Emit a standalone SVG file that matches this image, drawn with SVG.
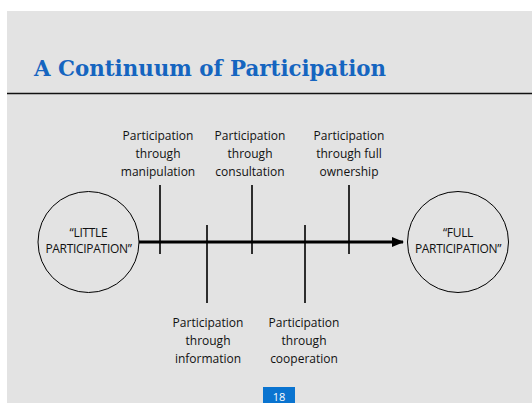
<svg xmlns="http://www.w3.org/2000/svg" width="532" height="403" viewBox="0 0 532 403">
<defs>
<style>
.lbl{font-family:"Open Sans","Noto Sans","DejaVu Sans",sans-serif;font-size:12px;fill:#111;text-anchor:middle}
.end{font-family:"Open Sans","Noto Sans","DejaVu Sans",sans-serif;font-size:12px;fill:#111;text-anchor:middle}
.tick{stroke:#000;stroke-width:1.6}
.node{fill:none;stroke:#000;stroke-width:1}
</style>
<marker id="ah" markerWidth="12" markerHeight="10" refX="11" refY="5" orient="auto" markerUnits="userSpaceOnUse">
<path d="M0,0 L12,5 L0,10 Z" fill="#000"/>
</marker>
</defs>
<rect x="0" y="0" width="532" height="403" fill="#fff"/>
<rect x="7" y="11" width="525" height="392" fill="#e3e3e3"/>
<text x="34" y="76" font-family="'DejaVu Serif','Liberation Serif',serif" font-weight="bold" font-size="23" fill="#1565c0" textLength="352" lengthAdjust="spacingAndGlyphs">A Continuum of Participation</text>
<line x1="7" y1="93.5" x2="532" y2="93.5" stroke="#111" stroke-width="1.6"/>
<g id="connectors">
<line x1="139" y1="242" x2="403" y2="242" stroke="#000" stroke-width="3" marker-end="url(#ah)"/>
<line class="tick" x1="160" y1="185" x2="160" y2="254"/>
<line class="tick" x1="207" y1="225" x2="207" y2="303"/>
<line class="tick" x1="252" y1="185" x2="252" y2="254"/>
<line class="tick" x1="305" y1="225" x2="305" y2="303"/>
<line class="tick" x1="349" y1="185" x2="349" y2="254"/>
</g>
<g id="little">
<circle class="node" cx="88.5" cy="242" r="50.5"/>
<text class="end" x="88.5" y="237" letter-spacing="-0.3">“LITTLE</text>
<text class="end" x="88.5" y="253" letter-spacing="-0.3">PARTICIPATION”</text>
</g>
<g id="full">
<circle class="node" cx="458" cy="242" r="50.5"/>
<text class="end" x="458" y="237" letter-spacing="-0.3">“FULL</text>
<text class="end" x="458" y="253" letter-spacing="-0.3">PARTICIPATION”</text>
</g>
<g id="manipulation">
<text class="lbl" x="158" y="140">Participation</text>
<text class="lbl" x="158" y="158">through</text>
<text class="lbl" x="158" y="176">manipulation</text>
</g>
<g id="consultation">
<text class="lbl" x="250" y="140">Participation</text>
<text class="lbl" x="250" y="158">through</text>
<text class="lbl" x="250" y="176">consultation</text>
</g>
<g id="ownership">
<text class="lbl" x="349" y="140">Participation</text>
<text class="lbl" x="349" y="158">through full</text>
<text class="lbl" x="349" y="176">ownership</text>
</g>
<g id="information">
<text class="lbl" x="208" y="327">Participation</text>
<text class="lbl" x="208" y="345">through</text>
<text class="lbl" x="208" y="363">information</text>
</g>
<g id="cooperation">
<text class="lbl" x="304" y="327">Participation</text>
<text class="lbl" x="304" y="345">through</text>
<text class="lbl" x="304" y="363">cooperation</text>
</g>
<g id="page">
<rect x="263" y="387" width="32" height="16" fill="#0a74d0"/>
<text x="279" y="401" font-family="'Open Sans','Noto Sans',sans-serif" font-size="11" fill="#fff" text-anchor="middle">18</text>
</g>
</svg>
